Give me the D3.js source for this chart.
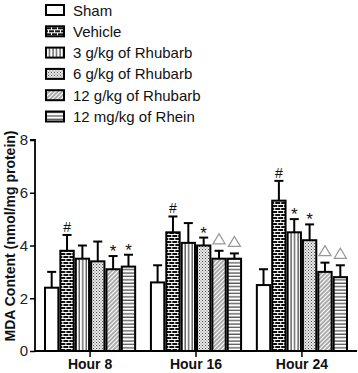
<!DOCTYPE html>
<html>
<head>
<meta charset="utf-8">
<script src="https://cdn.jsdelivr.net/npm/d3@7"></script>
<style>
  body { margin: 0; background: #fff; }
  svg { display: block; font-family: Arial, "Liberation Sans", sans-serif; }
</style>
</head>
<body>
<svg id="chart" width="358" height="373"></svg>
<script>
// data
const groups = ["Hour 8", "Hour 16", "Hour 24"];
const treatments = ["Sham", "Vehicle", "3 g/kg of Rhubarb", "6 g/kg of Rhubarb", "12 g/kg of Rhubarb", "12 mg/kg of Rhein"];
const meanH8  = [2.4, 3.8, 3.5, 3.4, 3.1, 3.2];
const meanH16 = [2.6, 4.5, 4.1, 4.0, 3.5, 3.5];
const meanH24 = [2.5, 5.7, 4.5, 4.2, 3.0, 2.8];
const sdH8  = [0.6, 0.6, 0.5, 0.75, 0.5, 0.45];
const sdH16 = [0.65, 0.6, 0.75, 0.3, 0.3, 0.2];
const sdH24 = [0.6, 0.75, 0.5, 0.6, 0.35, 0.45];
const markH8  = ["", "#", "", "", "*", "*"];
const markH16 = ["", "#", "", "*", "\u25B3", "\u25B3"];
const markH24 = ["", "#", "*", "*", "\u25B3", "\u25B3"];
const yTicks = [0, 2, 4, 6, 8];

const means = [meanH8, meanH16, meanH24];
const sds = [sdH8, sdH16, sdH24];
const marks = [markH8, markH16, markH24];

const svg = d3.select("#chart");
const defs = svg.append("defs");

// fill patterns
var p;
p = defs.append("pattern").attr("id", "pat1").attr("patternUnits", "userSpaceOnUse").attr("width", 6).attr("height", 6);
p.append("rect").attr("width", 6).attr("height", 6).attr("fill", "#111");
p.append("line").attr("x1", 0).attr("x2", 6).attr("y1", 0.5).attr("y2", 0.5).attr("stroke", "#fff").attr("stroke-width", 1);
p.append("line").attr("x1", 0).attr("x2", 6).attr("y1", 3.5).attr("y2", 3.5).attr("stroke", "#fff").attr("stroke-width", 1);
p.append("line").attr("x1", 0.5).attr("x2", 0.5).attr("y1", 0).attr("y2", 3).attr("stroke", "#fff").attr("stroke-width", 1);
p.append("line").attr("x1", 3.5).attr("x2", 3.5).attr("y1", 3).attr("y2", 6).attr("stroke", "#fff").attr("stroke-width", 1);

p = defs.append("pattern").attr("id", "pat2").attr("patternUnits", "userSpaceOnUse").attr("width", 3.5).attr("height", 4);
p.append("rect").attr("width", 3.5).attr("height", 4).attr("fill", "#fff");
p.append("line").attr("x1", 1).attr("x2", 1).attr("y1", 0).attr("y2", 4).attr("stroke", "#222").attr("stroke-width", 1);

p = defs.append("pattern").attr("id", "pat3").attr("patternUnits", "userSpaceOnUse").attr("width", 3).attr("height", 3);
p.append("rect").attr("width", 3).attr("height", 3).attr("fill", "#ececec");
p.append("rect").attr("x", 0).attr("y", 0).attr("width", 1).attr("height", 1).attr("fill", "#444");
p.append("rect").attr("x", 1.5).attr("y", 1.5).attr("width", 1).attr("height", 1).attr("fill", "#666");

p = defs.append("pattern").attr("id", "pat4").attr("patternUnits", "userSpaceOnUse").attr("width", 3).attr("height", 3)
  .attr("patternTransform", "rotate(45)");
p.append("rect").attr("width", 3).attr("height", 3).attr("fill", "#fff");
p.append("line").attr("x1", 1).attr("x2", 1).attr("y1", 0).attr("y2", 3).attr("stroke", "#444").attr("stroke-width", 0.9);

p = defs.append("pattern").attr("id", "pat5").attr("patternUnits", "userSpaceOnUse").attr("width", 4).attr("height", 3.4);
p.append("rect").attr("width", 4).attr("height", 3.4).attr("fill", "#fff");
p.append("line").attr("x1", 0).attr("x2", 4).attr("y1", 1).attr("y2", 1).attr("stroke", "#222").attr("stroke-width", 1);

const fills = ["#fff", "url(#pat1)", "url(#pat2)", "url(#pat3)", "url(#pat4)", "url(#pat5)"];

// scales
const x = d3.scaleBand().domain(groups).range([35, 357]).paddingInner(0.13).paddingOuter(0.085);
const xi = d3.scaleBand().domain(treatments).range([0, x.bandwidth()]);
const y = d3.scaleLinear().domain([0, 8]).range([351, 140]);

// bars
const rows = [];
groups.forEach((g, gi) => {
  treatments.forEach((t, ti) => {
    rows.push({g, t, ti, v: means[gi][ti], sd: sds[gi][ti], mk: marks[gi][ti]});
  });
});

const cells = svg.append("g").selectAll("g").data(rows).join("g")
  .attr("transform", d => "translate(" + (x(d.g) + xi(d.t)) + ",0)");
const bw = xi.bandwidth();

// error bars (upper only)
cells.append("line")
  .attr("x1", bw / 2).attr("x2", bw / 2)
  .attr("y1", d => y(d.v)).attr("y2", d => y(d.v + d.sd))
  .attr("stroke", "#000").attr("stroke-width", 2);
cells.append("line")
  .attr("x1", bw / 2 - 4.5).attr("x2", bw / 2 + 4.5)
  .attr("y1", d => y(d.v + d.sd)).attr("y2", d => y(d.v + d.sd))
  .attr("stroke", "#000").attr("stroke-width", 2);

cells.append("rect")
  .attr("x", 1).attr("width", bw - 2)
  .attr("y", d => y(d.v)).attr("height", d => y(0) - y(d.v))
  .attr("fill", d => fills[d.ti])
  .attr("stroke", "#000").attr("stroke-width", 2);

// significance marks
cells.filter(d => d.mk === "#" || d.mk === "*").append("text")
  .attr("x", bw / 2).attr("y", d => y(d.v + d.sd) - (d.mk === "*" ? -1 : 3))
  .attr("text-anchor", "middle")
  .attr("font-size", d => d.mk === "*" ? 17 : 14)
  .attr("fill", "#111")
  .text(d => d.mk);
cells.filter(d => d.mk === "\u25B3").append("path")
  .attr("d", d => {
    var cy = y(d.v + d.sd) - 12, cx = bw / 2;
    return "M" + (cx - 6) + "," + (cy + 5) + "L" + cx + "," + (cy - 5) + "L" + (cx + 6) + "," + (cy + 5) + "Z";
  })
  .attr("fill", "none").attr("stroke", "#999").attr("stroke-width", 1.3);

// axes
const yAxis = svg.append("g").attr("transform", "translate(35,0)")
  .call(d3.axisLeft(y).tickValues(yTicks).tickSize(5).tickPadding(2).tickFormat(d3.format("d")));
yAxis.selectAll("text").attr("font-size", 15).attr("fill", "#222").attr("font-family", "Arial, 'Liberation Sans', sans-serif");
yAxis.select(".domain").attr("stroke-width", 1.8).attr("d", "M-5," + y(8) + "H0V" + y(0));
yAxis.selectAll(".tick line").attr("stroke-width", 1.5);

const xAxis = svg.append("g").attr("transform", "translate(0," + y(0) + ")")
  .call(d3.axisBottom(x).tickSize(6).tickPadding(2));
xAxis.select(".domain").attr("stroke-width", 1.8).attr("d", "M35,0H357");
xAxis.selectAll(".tick line").attr("stroke-width", 1.5);
xAxis.selectAll("text").attr("font-size", 14).attr("font-weight", "bold").attr("fill", "#111")
  .attr("font-family", "Arial, 'Liberation Sans', sans-serif");

// y label
svg.append("text")
  .attr("transform", "translate(15,236) rotate(-90)")
  .attr("text-anchor", "middle")
  .attr("font-size", 14).attr("font-weight", "bold").attr("fill", "#111")
  .text("MDA Content (nmol/mg protein)");

// legend
const leg = svg.append("g").selectAll("g").data(treatments).join("g")
  .attr("transform", (d, i) => "translate(45," + (5 + i * 21.3) + ")");
leg.append("rect").attr("x", 1).attr("y", 0).attr("width", 18).attr("height", 10)
  .attr("fill", (d, i) => fills[i]).attr("stroke", "#000").attr("stroke-width", 2);
leg.append("text").attr("x", 28).attr("y", 10.5)
  .attr("font-size", 15).attr("fill", "#111")
  .text(d => d);
</script>
</body>
</html>
